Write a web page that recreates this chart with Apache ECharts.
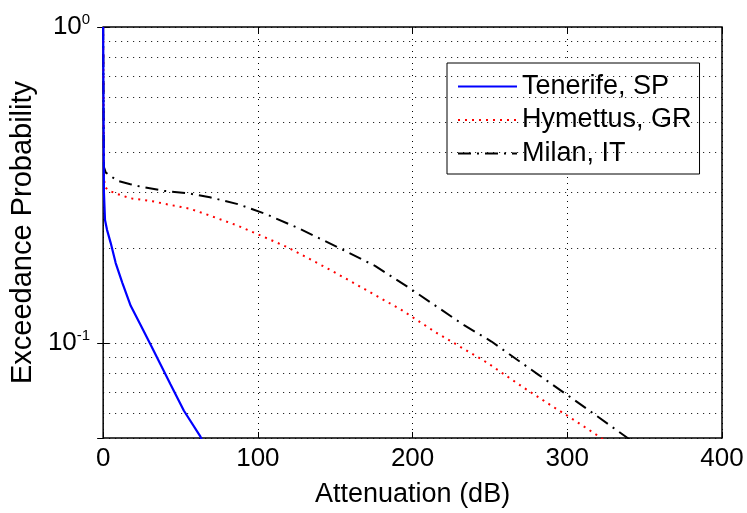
<!DOCTYPE html>
<html>
<head>
<meta charset="utf-8">
<script src="https://cdn.jsdelivr.net/npm/echarts@6/dist/echarts.min.js"></script>
<style>
html,body{margin:0;padding:0;background:#fff;}
#chart{width:747px;height:513px;}
</style>
</head>
<body>
<div id="chart"></div>
<script>
// ---- data ----
var seriesNames = ['Tenerife, SP', 'Hymettus, GR', 'Milan, IT'];
var tenerife = [[0,1],[0.5,0.3],[1.2,0.245],[2.5,0.228],[4.9,0.207],[8.1,0.179],[12.4,0.155],[17.8,0.131],[24.2,0.114],[30.7,0.0986],[37.1,0.0854],[43.5,0.074],[52.2,0.061],[62.9,0.0505],[64,0.049]];
var hymettus = [[0,1],[0.5,0.33],[1.5,0.31],[4.7,0.302],[9.2,0.296],[17.6,0.287],[31.8,0.281],[39,0.276],[56,0.266],[69,0.253],[87,0.235],[96,0.225],[119,0.201],[148,0.169],[169,0.148],[193,0.127],[215,0.108],[248,0.0867],[271,0.0726],[289.5,0.0634],[302,0.058],[322,0.05],[326,0.0485]];
var milan = [[0,1],[0.5,0.36],[1.7,0.346],[9.2,0.326],[17.6,0.318],[22,0.314],[39,0.303],[56,0.297],[69,0.289],[87,0.275],[105,0.256],[126,0.231],[156,0.196],[176,0.175],[199,0.148],[233,0.114],[251,0.101],[281,0.0795],[300,0.0684],[317,0.0597],[339,0.05],[343,0.0485]];
var xTicks = [0, 100, 200, 300, 400];
var yMajor = [0.1, 1];
var minorGrid = [0.06, 0.07, 0.08, 0.09, 0.2, 0.3, 0.4, 0.5, 0.6, 0.7, 0.8, 0.9];

var FONT = "'Liberation Sans', Arial, Helvetica, sans-serif";
var dotted = [1, 5];

var chart = echarts.init(document.getElementById('chart'), null, {renderer: 'canvas'});
var option = {
  animation: false,
  backgroundColor: '#fff',
  textStyle: {fontFamily: FONT, color: '#000'},
  grid: {left: 101, right: 25, top: 27, bottom: 69, show: true, borderColor: '#000', borderWidth: 1.5, backgroundColor: '#fff'},
  legend: {
    orient: 'vertical', left: 447, top: 63,
    padding: [10, 8, 7, 10], itemGap: 6.5, itemWidth: 59, itemHeight: 14,
    backgroundColor: '#fff', borderColor: '#000', borderWidth: 1,
    itemStyle: {opacity: 0, color: 'rgba(0,0,0,0)', borderWidth: 0},
    textStyle: {fontFamily: FONT, fontSize: 27, color: '#000'},
    data: seriesNames
  },
  xAxis: [{
    type: 'value', min: xTicks[0], max: xTicks[xTicks.length - 1], interval: 100,
    name: 'Attenuation (dB)', nameLocation: 'middle', nameGap: 43,
    nameTextStyle: {fontFamily: FONT, fontSize: 27, color: '#000'},
    axisLine: {show: false},
    axisTick: {show: true, inside: true, length: 6, lineStyle: {color: '#000', width: 1}},
    axisLabel: {fontFamily: FONT, fontSize: 26, color: '#000', margin: 8},
    splitLine: {show: true, lineStyle: {color: '#000', type: dotted, width: 1}}
  }, {
    type: 'value', position: 'top', min: xTicks[0], max: xTicks[xTicks.length - 1], interval: 100,
    axisLine: {show: false}, axisLabel: {show: false}, splitLine: {show: false},
    axisTick: {show: true, inside: true, length: 6, lineStyle: {color: '#000', width: 1}}
  }],
  yAxis: [{
    type: 'log', logBase: 10, min: 0.05, max: 1,
    name: 'Exceedance Probability', nameLocation: 'middle', nameGap: 58,
    nameTextStyle: {fontFamily: FONT, fontSize: 29, color: '#000'},
    axisLine: {show: false},
    axisTick: {show: true, inside: true, length: 6, lineStyle: {color: '#000', width: 1}},
    axisLabel: {
      margin: 13, fontFamily: FONT, fontSize: 26, color: '#000',
      showMinLabel: false,
      formatter: function (v) {
        if (Math.abs(v - 1) < 1e-9) return '10{sup|0}';
        if (Math.abs(v - 0.1) < 1e-9) return '10{sup|-1}';
        return '';
      },
      rich: {sup: {fontFamily: FONT, fontSize: 15, color: '#000', verticalAlign: 'top', padding: [0, 0, 14, 0]}}
    },
    splitLine: {show: true, lineStyle: {color: '#000', type: dotted, width: 1}}
  }, {
    type: 'log', logBase: 10, min: 0.05, max: 1, position: 'right',
    axisLine: {show: false}, axisLabel: {show: false}, splitLine: {show: false},
    axisTick: {show: true, inside: true, length: 6, lineStyle: {color: '#000', width: 1}}
  }],
  series: [{
    name: seriesNames[0], type: 'line', data: tenerife, symbol: 'none', clip: true, z: 5,
    lineStyle: {color: '#0000ff', width: 2.2, type: 'solid'}, itemStyle: {color: '#0000ff'},
    markLine: {
      silent: true, symbol: 'none', label: {show: false}, animation: false,
      lineStyle: {color: '#000', type: dotted, width: 1},
      data: minorGrid.map(function (v) { return {yAxis: v}; })
    }
  }, {
    name: seriesNames[1], type: 'line', data: hymettus, symbol: 'none', clip: true, z: 4,
    lineStyle: {color: '#ff0000', width: 2, type: [2, 5]}, itemStyle: {color: '#ff0000'}
  }, {
    name: seriesNames[2], type: 'line', data: milan, symbol: 'none', clip: true, z: 4,
    lineStyle: {color: '#000000', width: 2, type: [13, 6, 2, 6]}, itemStyle: {color: '#000'}
  }]
};
chart.setOption(option);
</script>
</body>
</html>
